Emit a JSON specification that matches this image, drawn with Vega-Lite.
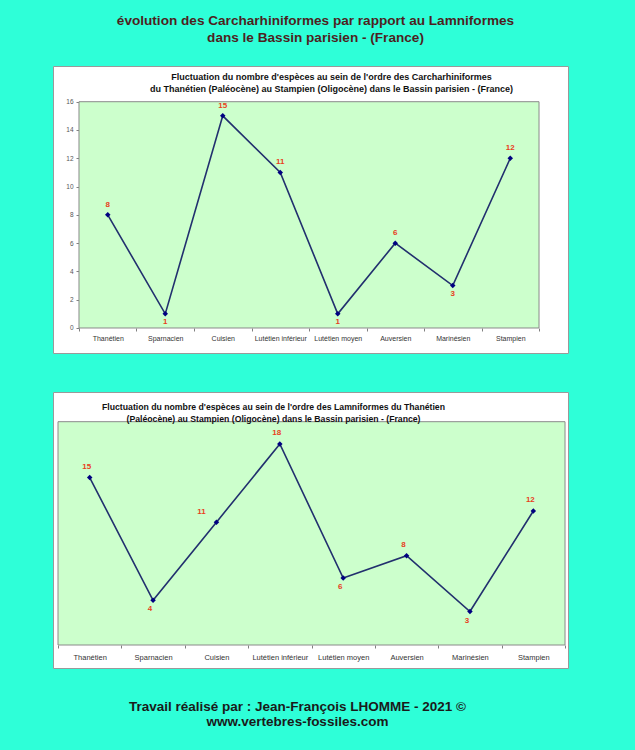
{
  "$schema": "https://vega.github.io/schema/vega-lite/v6.json",
  "background": "#2effd8",
  "padding": {"left": 52, "right": 68, "top": 13, "bottom": 24},
  "config": {
    "font": "Liberation Sans",
    "view": {"fill": "white", "stroke": "#9a9a9a", "strokeWidth": 1},
    "axis": {"labelOverlap": false}
  },
  "datasets": {
    "carcha": [
      {"i": 0, "etage": "Thanétien", "n": 8},
      {"i": 1, "etage": "Sparnacien", "n": 1},
      {"i": 2, "etage": "Cuisien", "n": 15},
      {"i": 3, "etage": "Lutétien inférieur", "n": 11},
      {"i": 4, "etage": "Lutétien moyen", "n": 1},
      {"i": 5, "etage": "Auversien", "n": 6},
      {"i": 6, "etage": "Marinésien", "n": 3},
      {"i": 7, "etage": "Stampien", "n": 12}
    ],
    "lamni": [
      {"i": 0, "etage": "Thanétien", "n": 15},
      {"i": 1, "etage": "Sparnacien", "n": 4},
      {"i": 2, "etage": "Cuisien", "n": 11},
      {"i": 3, "etage": "Lutétien inférieur", "n": 18},
      {"i": 4, "etage": "Lutétien moyen", "n": 6},
      {"i": 5, "etage": "Auversien", "n": 8},
      {"i": 6, "etage": "Marinésien", "n": 3},
      {"i": 7, "etage": "Stampien", "n": 12}
    ]
  },
  "title": {
    "text": ["évolution des Carcharhiniformes par rapport au Lamniformes", "dans le Bassin parisien - (France)"],
    "fontSize": 13.6,
    "fontWeight": "bold",
    "color": "#4d1f1f",
    "lineHeight": 17,
    "anchor": "middle",
    "dx": 5,
    "offset": 21
  },
  "vconcat": [
    {
      "title": {
        "text": ["Travail réalisé par : Jean-François LHOMME - 2021 ©", "www.vertebres-fossiles.com"],
        "orient": "bottom",
        "fontSize": 13.5,
        "fontWeight": "bold",
        "color": "#1a1a1a",
        "lineHeight": 15.5,
        "anchor": "middle",
        "dx": -13,
        "offset": 31
      },
      "spacing": 37,
      "vconcat": [
        {
          "width": 515,
          "height": 287,
          "title": {
            "text": ["Fluctuation du nombre d'espèces au sein de l'ordre des Carcharhiniformes ", "du Thanétien (Paléocène) au Stampien (Oligocène) dans le Bassin parisien  - (France)"],
            "fontSize": 9,
            "fontWeight": "bold",
            "color": "#111111",
            "lineHeight": 12.5,
            "anchor": "middle",
            "dx": 21,
            "offset": -28
          },
          "data": {"name": "carcha"},
          "layer": [
            {
              "data": {"values": [{}]},
              "mark": {"type": "rect", "fill": "#ccffcc", "stroke": "#8a8a8a", "strokeWidth": 1},
              "encoding": {
                "x": {
                  "datum": -0.5,
                  "type": "quantitative",
                  "scale": {"domain": [-0.952, 8.004], "nice": false, "zero": false},
                  "axis": {
                    "title": null,
                    "values": [-0.5, 0, 0.5, 1, 1.5, 2, 2.5, 3, 3.5, 4, 4.5, 5, 5.5, 6, 6.5, 7, 7.5],
                    "tickCount": 40,
                    "labelExpr": "datum.value % 1 ? '' : ['Thanétien','Sparnacien','Cuisien','Lutétien inférieur','Lutétien moyen','Auversien','Marinésien','Stampien'][datum.value]",
                    "tickOpacity": {"condition": {"test": "datum.value % 1 !== 0", "value": 1}, "value": 0},
                    "domain": false,
                    "grid": false,
                    "offset": -25,
                    "tickColor": "#808080",
                    "tickSize": 3,
                    "labelFontSize": 7,
                    "labelColor": "#333333",
                    "labelPadding": 3,
                    "labelFlush": false,
                    "labelOverlap": false
                  }
                },
                "x2": {"datum": 7.5},
                "y": {
                  "datum": 0,
                  "type": "quantitative",
                  "scale": {"domain": [-1.768, 18.525], "nice": false, "zero": false},
                  "axis": {
                    "title": null,
                    "values": [0, 2, 4, 6, 8, 10, 12, 14, 16],
                    "tickCount": 20,
                    "domain": false,
                    "grid": false,
                    "offset": -26,
                    "tickColor": "#808080",
                    "tickSize": 3,
                    "labelFontSize": 6.5,
                    "labelColor": "#555555",
                    "labelPadding": 3,
                    "labelFlush": false,
                    "labelOverlap": false
                  }
                },
                "y2": {"datum": 16}
              }
            },
            {
              "mark": {"type": "line", "color": "#22306e", "strokeWidth": 1.6},
              "encoding": {
                "x": {"field": "i", "type": "quantitative"},
                "y": {"field": "n", "type": "quantitative"}
              }
            },
            {
              "mark": {"type": "point", "shape": "diamond", "filled": true, "color": "#000080", "size": 30, "opacity": 1},
              "encoding": {
                "x": {"field": "i", "type": "quantitative"},
                "y": {"field": "n", "type": "quantitative"}
              }
            },
            {
              "transform": [{"filter": "indexof(['Sparnacien','Lutétien moyen','Marinésien'], datum.etage) < 0"}],
              "mark": {"type": "text", "color": "#e8401c", "fontWeight": "bold", "fontSize": 8, "dy": -10, "baseline": "middle"},
              "encoding": {
                "x": {"field": "i", "type": "quantitative"},
                "y": {"field": "n", "type": "quantitative"},
                "text": {"field": "n", "type": "quantitative"}
              }
            },
            {
              "transform": [{"filter": "indexof(['Sparnacien','Lutétien moyen','Marinésien'], datum.etage) >= 0"}],
              "mark": {"type": "text", "color": "#e8401c", "fontWeight": "bold", "fontSize": 8, "dy": 8, "baseline": "middle"},
              "encoding": {
                "x": {"field": "i", "type": "quantitative"},
                "y": {"field": "n", "type": "quantitative"},
                "text": {"field": "n", "type": "quantitative"}
              }
            }
          ]
        },
        {
          "width": 515,
          "height": 276,
          "title": {
            "text": ["Fluctuation du nombre d'espèces au sein de l'ordre des Lamniformes du Thanétien", "(Paléocène) au Stampien (Oligocène) dans le Bassin parisien  - (France)"],
            "fontSize": 8.7,
            "fontWeight": "bold",
            "color": "#111111",
            "lineHeight": 12,
            "anchor": "middle",
            "dx": -37,
            "offset": -32
          },
          "data": {"name": "lamni"},
          "layer": [
            {
              "data": {"values": [{}]},
              "mark": {"type": "rect", "fill": "#ccffcc", "stroke": "#8a8a8a", "strokeWidth": 1},
              "encoding": {
                "x": {
                  "datum": -0.5,
                  "type": "quantitative",
                  "scale": {"domain": [-0.579, 7.547], "nice": false, "zero": false},
                  "axis": {
                    "title": null,
                    "values": [-0.5, 0, 0.5, 1, 1.5, 2, 2.5, 3, 3.5, 4, 4.5, 5, 5.5, 6, 6.5, 7, 7.5],
                    "tickCount": 40,
                    "labelExpr": "datum.value % 1 ? '' : ['Thanétien','Sparnacien','Cuisien','Lutétien inférieur','Lutétien moyen','Auversien','Marinésien','Stampien'][datum.value]",
                    "tickOpacity": {"condition": {"test": "datum.value % 1 !== 0", "value": 1}, "value": 0},
                    "domain": false,
                    "grid": false,
                    "offset": -23,
                    "tickColor": "#808080",
                    "tickSize": 3,
                    "labelFontSize": 7.5,
                    "labelColor": "#333333",
                    "labelPadding": 5,
                    "labelFlush": false,
                    "labelOverlap": false
                  }
                },
                "x2": {"datum": 7.5},
                "y": {
                  "datum": 0,
                  "type": "quantitative",
                  "scale": {"domain": [-2.06, 22.66], "nice": false, "zero": false},
                  "axis": null
                },
                "y2": {"datum": 20}
              }
            },
            {
              "mark": {"type": "line", "color": "#22306e", "strokeWidth": 1.6},
              "encoding": {
                "x": {"field": "i", "type": "quantitative"},
                "y": {"field": "n", "type": "quantitative"}
              }
            },
            {
              "mark": {"type": "point", "shape": "diamond", "filled": true, "color": "#000080", "size": 30, "opacity": 1},
              "encoding": {
                "x": {"field": "i", "type": "quantitative"},
                "y": {"field": "n", "type": "quantitative"}
              }
            },
            {
              "transform": [{"filter": "indexof(['Sparnacien','Lutétien moyen','Marinésien','Cuisien'], datum.etage) < 0"}],
              "mark": {"type": "text", "color": "#e8401c", "fontWeight": "bold", "fontSize": 8, "dy": -11, "dx": -3, "baseline": "middle"},
              "encoding": {
                "x": {"field": "i", "type": "quantitative"},
                "y": {"field": "n", "type": "quantitative"},
                "text": {"field": "n", "type": "quantitative"}
              }
            },
            {
              "transform": [{"filter": "datum.etage === 'Cuisien'"}],
              "mark": {"type": "text", "color": "#e8401c", "fontWeight": "bold", "fontSize": 8, "dy": -10, "dx": -15, "baseline": "middle"},
              "encoding": {
                "x": {"field": "i", "type": "quantitative"},
                "y": {"field": "n", "type": "quantitative"},
                "text": {"field": "n", "type": "quantitative"}
              }
            },
            {
              "transform": [{"filter": "indexof(['Sparnacien','Lutétien moyen','Marinésien'], datum.etage) >= 0"}],
              "mark": {"type": "text", "color": "#e8401c", "fontWeight": "bold", "fontSize": 8, "dy": 9, "dx": -3, "baseline": "middle"},
              "encoding": {
                "x": {"field": "i", "type": "quantitative"},
                "y": {"field": "n", "type": "quantitative"},
                "text": {"field": "n", "type": "quantitative"}
              }
            }
          ]
        }
      ]
    }
  ]
}
